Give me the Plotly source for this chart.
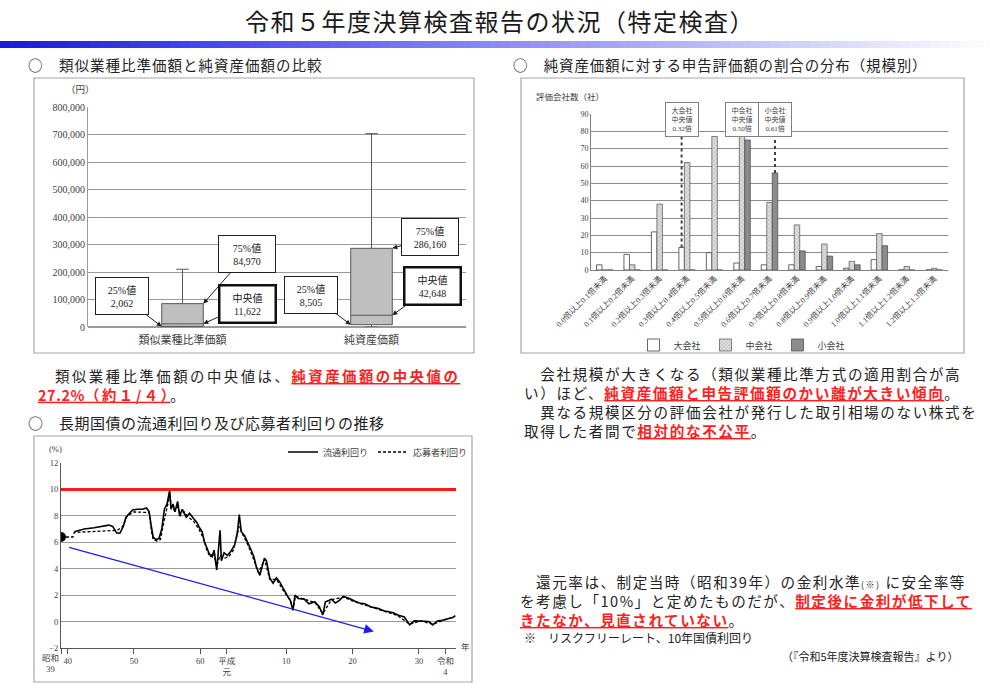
import plotly.graph_objects as go

W, H = 1000, 695


def px(x):
    return x / W


def py(y):
    return 1 - y / H


# ---------------- data ----------------
box_categories = ["類似業種比準価額", "純資産価額"]
box_q1 = [2062, 8505]
box_median = [11622, 42648]
box_q3 = [84970, 286160]
box_lower = [0, 0]
box_upper = [210000, 703000]

ratio_bins = [
    "0.0倍以上0.1倍未満", "0.1倍以上0.2倍未満", "0.2倍以上0.3倍未満",
    "0.3倍以上0.4倍未満", "0.4倍以上0.5倍未満", "0.5倍以上0.6倍未満",
    "0.6倍以上0.7倍未満", "0.7倍以上0.8倍未満", "0.8倍以上0.9倍未満",
    "0.9倍以上1.0倍未満", "1.0倍以上1.1倍未満", "1.1倍以上1.2倍未満",
    "1.2倍以上1.3倍未満",
]
large_cos = [3, 9, 22, 13, 10, 4, 3, 3, 2, 1, 6, 0, 0]
medium_cos = [0, 3, 38, 62, 77, 80, 39, 26, 15, 5, 21, 2, 1]
small_cos = [0, 0, 0, 0, 0, 75, 56, 11, 8, 3, 14, 0, 0]
size_names = ["大会社", "中会社", "小会社"]
size_medians = [0.32, 0.50, 0.61]

market_years = [
    1966.0, 1967.5, 1969.0, 1970.5, 1971.2, 1971.8, 1972.4, 1972.9, 1973.4, 1973.8,
    1974.3, 1974.8, 1975.5, 1976.3, 1976.9, 1977.3, 1977.6, 1977.9, 1978.3, 1978.8,
    1979.2, 1979.6, 1980.0, 1980.4, 1980.6, 1980.9, 1981.2, 1981.6, 1981.9, 1982.3,
    1982.9, 1983.4, 1984.0, 1984.5, 1984.9, 1985.3, 1985.6, 1986.0, 1986.4, 1986.8,
    1987.1, 1987.5, 1987.7, 1988.0, 1988.2, 1988.6, 1989.1, 1989.6, 1990.2, 1990.6,
    1990.9, 1991.2, 1991.7, 1992.2, 1992.7, 1993.1, 1993.5, 1994.0, 1994.7, 1995.0,
    1995.5, 1996.0, 1996.5, 1997.0, 1997.6, 1998.2, 1998.6, 1999.0, 1999.3, 1999.8,
    2000.7, 2001.4, 2002.3, 2003.0, 2003.5, 2003.9, 2004.4, 2004.8, 2005.4, 2006.0,
    2006.6, 2007.5, 2008.3, 2009.0, 2009.8, 2010.8, 2011.8, 2012.8, 2013.5, 2014.2,
    2014.8, 2015.8, 2016.2, 2016.6, 2017.3, 2018.3, 2019.0, 2019.5, 2020.1, 2020.8,
    2021.5, 2022.1, 2022.7, 2023.1, 2023.5,
]
market_yield = [
    6.8, 7.0, 7.1, 7.2, 7.3, 7.2, 6.7, 6.7, 7.2, 7.9,
    8.2, 8.45, 8.5, 8.5, 8.6, 8.3, 7.3, 6.4, 6.2, 6.3,
    7.0, 8.5, 8.9, 9.95, 8.5, 8.9, 8.3, 9.1, 8.0, 8.5,
    7.9, 8.2, 7.8, 7.5, 7.1, 6.8, 6.1, 5.6, 5.1, 4.9,
    5.4, 3.9, 5.0, 6.9, 4.6, 5.2, 5.0, 5.3, 5.8, 6.7,
    8.1, 6.8, 6.5, 6.0, 5.4, 4.9, 4.1, 3.5, 4.8, 4.6,
    3.3, 2.9, 3.3, 3.0, 2.4, 1.9, 1.6, 0.85, 2.0, 1.75,
    1.7, 1.35, 1.5, 1.1, 0.5, 1.5, 1.6, 1.7, 1.4, 1.6,
    1.9, 1.75, 1.55, 1.4, 1.35, 1.1, 1.0, 0.8, 0.75, 0.65,
    0.5, 0.35, 0.05, -0.25, 0.05, 0.05, 0.0, 0.0, -0.25, 0.05,
    0.1, 0.15, 0.25, 0.3, 0.45,
]

subscriber_years = [
    1964.0, 1965.8, 1966.0, 1968.0, 1970.0, 1971.5, 1972.5, 1973.3, 1974.0, 1975.0,
    1976.5, 1977.3, 1977.6, 1977.9, 1978.5, 1979.0, 1979.5, 1980.0, 1980.4, 1980.7,
    1981.2, 1981.6, 1982.0, 1982.6, 1983.2, 1984.0, 1984.8, 1985.5, 1986.0, 1986.5,
    1987.0, 1987.5, 1988.0, 1988.6, 1989.3, 1990.0, 1990.5, 1990.9, 1991.5, 1992.2,
    1993.0, 1993.8, 1994.7, 1995.5, 1996.5, 1997.6, 1998.6, 1999.0, 1999.4, 2000.7,
    2002.3, 2003.5, 2004.8, 2006.6, 2008.3, 2010.8, 2012.8, 2014.8, 2016.6, 2018.3,
    2020.1, 2022.1, 2023.4,
]
subscriber_yield = [
    6.4, 6.4, 6.75, 6.8, 6.85, 6.9, 6.9, 7.2, 8.0, 8.3,
    8.3, 8.25, 7.0, 6.2, 6.1, 6.2, 7.5, 8.7, 9.5, 8.6,
    8.4, 8.7, 8.0, 8.3, 7.9, 7.6, 7.0, 6.3, 5.4, 4.9,
    5.2, 4.2, 5.0, 4.8, 4.9, 5.4, 6.3, 7.2, 6.5, 5.8,
    4.8, 3.7, 4.7, 3.2, 3.2, 2.3, 1.6, 1.0, 1.9, 1.7,
    1.45, 0.6, 1.65, 1.85, 1.5, 1.1, 0.8, 0.45, -0.2, 0.05,
    -0.2, 0.15, 0.4,
]

line_tick_years = [1964, 1965, 1975, 1985, 1989, 1998, 2008, 2018, 2022]
line_tick_labels = ["", "40", "50", "60", "平成<br>元", "10", "20", "30", "令和<br>4"]
first_era_label = "昭和<br>39"
restoration_rate = 10

# ---------------- style ----------------
SERIF = "Liberation Serif, Noto Sans CJK JP"
SANS = "Noto Sans CJK JP"
RED = "#ff1f1f"
GRID = "#9a9a9a"
TXT = "#404040"

fig = go.Figure()

# ---- box chart ----
fig.add_trace(go.Box(
    x=[0, 1], q1=box_q1, median=box_median, q3=box_q3,
    lowerfence=box_lower, upperfence=box_upper,
    width=0.22, whiskerwidth=0.3, boxpoints=False,
    fillcolor="#bfbfbf", line=dict(color="#595959", width=1),
    xaxis="x", yaxis="y", showlegend=False, hoverinfo="skip",
))

# ---- bar chart ----
bar_styles = [
    dict(color="white", line=dict(color="#404040", width=0.8)),
    dict(color="#d0d0d0", line=dict(color="#606060", width=0.8),
         pattern=dict(shape="x", fgcolor="#7a7a7a", bgcolor="#e0e0e0", size=3, solidity=0.3)),
    dict(color="#8c8c8c", line=dict(color="#505050", width=0.8)),
]
for name, vals, st in zip(size_names, [large_cos, medium_cos, small_cos], bar_styles):
    fig.add_trace(go.Bar(
        x=list(range(len(ratio_bins))), y=vals, name=name, marker=st,
        xaxis="x2", yaxis="y2", legend="legend", hoverinfo="skip",
    ))

# ---- line chart ----
fig.add_trace(go.Scatter(
    x=market_years, y=market_yield, mode="lines", name="流通利回り",
    line=dict(color="black", width=1.6), xaxis="x3", yaxis="y3", legend="legend2",
))
fig.add_trace(go.Scatter(
    x=subscriber_years, y=subscriber_yield, mode="lines", name="応募者利回り",
    line=dict(color="black", width=1.3, dash="3px,2px"), xaxis="x3", yaxis="y3", legend="legend2",
))
fig.add_trace(go.Scatter(
    x=[subscriber_years[0]], y=[subscriber_yield[0]], mode="markers",
    marker=dict(color="black", size=10), xaxis="x3", yaxis="y3", showlegend=False,
))

shapes = []
annotations = []

# gradient header bar
n = 100
for i in range(n):
    t = i / (n - 1)
    r = int(25 + (255 - 25) * t)
    g = int(25 + (255 - 25) * t)
    b = int(225 + (255 - 225) * t)
    shapes.append(dict(type="rect", xref="paper", yref="paper",
                       x0=px(i * 10), x1=px(i * 10 + 10.5), y0=py(48), y1=py(41),
                       fillcolor=f"rgb({r},{g},{b})", line=dict(width=0), layer="below"))

# panel borders
for (x0, y0, x1, y1) in [(34, 78, 474, 353), (521, 78, 964, 353), (34, 436, 472, 682)]:
    shapes.append(dict(type="rect", xref="paper", yref="paper",
                       x0=px(x0), x1=px(x1), y0=py(y1), y1=py(y0),
                       line=dict(color="#a6a6a6", width=1.2), layer="below"))

# restoration-rate line
shapes.append(dict(type="line", xref="x3", yref="y3", x0=1964, x1=2023.6,
                   y0=restoration_rate, y1=restoration_rate,
                   line=dict(color="#ff1a1a", width=3)))

# median lines in the bar chart
series_vals = [large_cos, medium_cos, small_cos]
for k, (nm, med) in enumerate(zip(size_names, size_medians)):
    b = int(med * 10 + 1e-9)
    xpos = b + (k - 1) * 0.2
    top = series_vals[k][b]
    shapes.append(dict(type="line", xref="x2", yref="y2", x0=xpos, x1=xpos,
                       y0=top, y1=88, line=dict(color="#404040", width=2, dash="dot")))
    annotations.append(dict(xref="x2", yref="paper", x=xpos, y=py(102.5),
                            text=f"{nm}<br>中央値<br>{med:.2f}倍", showarrow=False,
                            font=dict(family=SERIF, size=7, color=TXT),
                            bgcolor="white", bordercolor="#808080", borderwidth=1,
                            width=30, height=31, borderpad=1))

# box callouts
half = 0.11
for i in range(2):
    annotations.append(dict(xref="x", yref="y", x=i - half, y=box_q1[i],
                            ax=-40, ay=-30, text=f"25%値<br>{box_q1[i]:,}",
                            font=dict(family=SERIF, size=10, color="#202020"),
                            bgcolor="white", bordercolor="#202020", borderwidth=1,
                            width=48, height=32, borderpad=2,
                            arrowhead=2, arrowsize=1, arrowwidth=1, arrowcolor="#202020"))
    annotations.append(dict(xref="x", yref="y", x=i + half, y=box_q3[i],
                            ax=44 if i == 0 else 38, ay=-50 if i == 0 else -11,
                            text=f"75%値<br>{box_q3[i]:,}",
                            font=dict(family=SERIF, size=10, color="#202020"),
                            bgcolor="white", bordercolor="#202020", borderwidth=1,
                            width=52, height=32, borderpad=2,
                            arrowhead=2, arrowsize=1, arrowwidth=1, arrowcolor="#202020"))
    annotations.append(dict(xref="x", yref="y", x=i + half, y=box_median[i],
                            ax=44 if i == 0 else 40, ay=-20 if i == 0 else -29,
                            text=f"中央値<br>{box_median[i]:,}",
                            font=dict(family=SERIF, size=10, color="#202020"),
                            bgcolor="white", bordercolor="#101010", borderwidth=2.5,
                            width=50, height=31, borderpad=2,
                            arrowhead=2, arrowsize=1, arrowwidth=1, arrowcolor="#202020"))

# blue trend arrow
annotations.append(dict(xref="x3", yref="y3", axref="x3", ayref="y3",
                        x=2011.2, y=-0.75, ax=1965.0, ay=5.65, text="",
                        showarrow=True, arrowhead=2, arrowsize=1.6, arrowwidth=1.2,
                        arrowcolor="#1a1aff"))

# first era label (left of the first tick, as in the original)
annotations.append(dict(xref="x3", yref="paper", x=line_tick_years[0], y=py(651),
                        text=first_era_label, showarrow=False, xanchor="right",
                        yanchor="top", align="center",
                        font=dict(family=SERIF, size=8.5, color=TXT)))


def txt(x, y, text, size=16, color="#222222", xanchor="left", family=SANS, ls=0):
    if ls:
        text = f"<span style='letter-spacing:{ls}px'>{text}</span>"
    annotations.append(dict(xref="paper", yref="paper", x=px(x), y=py(y), text=text,
                            showarrow=False, xanchor=xanchor, yanchor="middle", align="left",
                            font=dict(family=family, size=size, color=color)))


def red(s):
    return f"<span style='color:{RED}'><b><u>{s}</u></b></span>"


txt(500, 20, "令和５年度決算検査報告の状況（特定検査）", size=24, xanchor="center",
    color="#1a1a1a", ls=1.5)
txt(26, 65, "○　類似業種比準価額と純資産価額の比較", size=14.5, ls=1)
txt(511, 65, "○　純資産価額に対する申告評価額の割合の分布（規模別）", size=14.5, ls=0.85)
txt(26, 422, "○　長期国債の流通利回り及び応募者利回りの推移", size=15, ls=0.5)

txt(36, 384.5,
    "　類似業種比準価額の中央値は、" + red("純資産価額の中央値の") + "<br>"
    + red("<span style='letter-spacing:0.6px'>27.2%</span>（約１/４）") + "。",
    size=14.4, ls=2.5)

txt(522, 402.5,
    "　会社規模が大きくなる（類似業種比準方式の適用割合が高<br>"
    + "い）ほど、" + red("純資産価額と申告評価額のかい離が大きい傾向") + "。<br>"
    + "　異なる規模区分の評価会社が発行した取引相場のない株式を<br>"
    + "取得した者間で" + red("相対的な不公平") + "。",
    size=14.6, ls=1.6)

txt(518, 600,
    "　還元率は、制定当時（昭和39年）の金利水準<span style='font-size:9px'>(※)</span> に安全率等<br>"
    + "を考慮し「10%」と定めたものだが、" + red("制定後に金利が低下して") + "<br>"
    + red("きたなか、見直されていない") + "。",
    size=14.6, ls=1.5)
txt(522, 637, "※　リスクフリーレート、10年国債利回り", size=12)
txt(960, 656, "（『令和5年度決算検査報告』より）", size=11, xanchor="right")

# axis captions
txt(64, 90, "（円）", size=9.5, color=TXT, family=SERIF)
txt(534, 97, "評価会社数（社）", size=8.5, color=TXT, family=SERIF)
txt(47, 449, "(%)", size=8.5, color=TXT, family=SERIF)
txt(459, 647, "年", size=8.5, color=TXT, family=SERIF)

fig.update_layout(
    width=W, height=H, autosize=False,
    margin=dict(l=0, r=0, t=0, b=0, pad=0, autoexpand=False),
    paper_bgcolor="white", plot_bgcolor="white",
    barmode="group", bargap=0.4, bargroupgap=0,
    shapes=shapes, annotations=annotations,
    font=dict(family=SERIF, color=TXT),
    xaxis=dict(domain=[px(88), px(466)], range=[-0.5, 1.5], tickvals=[0, 1],
               ticktext=box_categories, showgrid=False, zeroline=False,
               tickfont=dict(family=SERIF, size=11, color=TXT), ticks="", tickangle=0,
               ticklabelstandoff=5, automargin=False),
    yaxis=dict(domain=[py(327), py(107)], range=[0, 800000], dtick=100000,
               tickformat=",", gridcolor=GRID, gridwidth=1, zeroline=True,
               zerolinecolor=GRID, showline=True, linecolor=GRID, ticks="",
               tickfont=dict(family=SERIF, size=10, color=TXT), automargin=False),
    xaxis2=dict(domain=[px(591), px(948)], range=[-0.5, 12.5], anchor="y2",
                tickvals=list(range(len(ratio_bins))), ticktext=ratio_bins,
                tickangle=-45, showgrid=False, zeroline=False, showline=True,
                linecolor="#808080", tickfont=dict(family=SERIF, size=8, color=TXT), ticks="",
                automargin=False),
    yaxis2=dict(domain=[py(270), py(114)], range=[0, 90], dtick=10, anchor="x2",
                gridcolor="#8c8c8c", showline=True, linecolor="#808080", zeroline=False,
                tickfont=dict(family=SERIF, size=8, color=TXT), ticks="", automargin=False),
    xaxis3=dict(domain=[px(61), px(456)], range=[1964, 2023.6], anchor="y3",
                tickvals=line_tick_years, ticktext=line_tick_labels, showgrid=False,
                zeroline=False, showline=True, linecolor="#555555", ticks="outside",
                ticklen=5, tickcolor="#555555", tickangle=0,
                tickfont=dict(family=SERIF, size=8.5, color=TXT), automargin=False),
    yaxis3=dict(domain=[py(648), py(463)], range=[-2, 12], dtick=2, anchor="x3",
                gridcolor=GRID, showline=True, linecolor="#555555", zeroline=False,
                tickfont=dict(family=SERIF, size=8.5, color=TXT), ticks="", automargin=False),
    legend=dict(x=px(742), y=py(345), xanchor="center", yanchor="middle",
                orientation="h", font=dict(family=SANS, size=9, color=TXT),
                bgcolor="rgba(0,0,0,0)", itemwidth=30, tracegroupgap=0),
    legend2=dict(x=px(283), y=py(452), xanchor="left", yanchor="middle",
                 orientation="h", font=dict(family=SERIF, size=9, color=TXT),
                 bgcolor="rgba(0,0,0,0)", itemwidth=30),
)

fig.write_html("out.html", config={"displayModeBar": False},
               post_script="document.body.style.margin='0';document.body.style.overflow='hidden';")
